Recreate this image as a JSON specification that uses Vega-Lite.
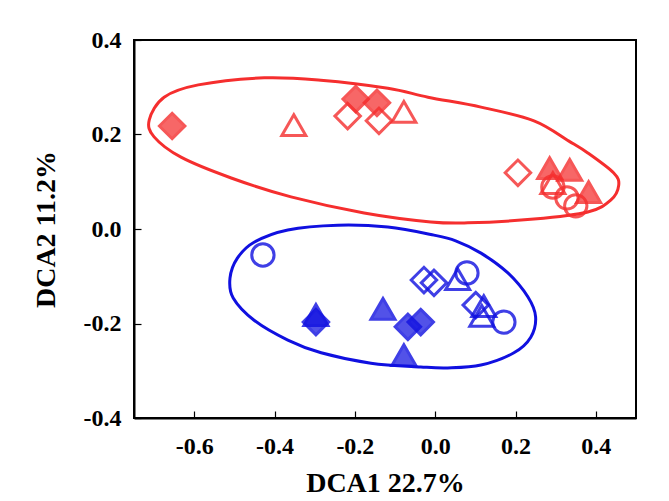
{
  "$schema": "https://vega.github.io/schema/vega-lite/v6.json",
  "width": 502,
  "height": 378,
  "autosize": "none",
  "padding": {"left": 134, "top": 40, "right": 33, "bottom": 83},
  "background": "white",
  "config": {
    "view": {"stroke": "black", "strokeWidth": 2},
    "axis": {
      "grid": false,
      "domainColor": "black",
      "domainWidth": 2,
      "tickColor": "black",
      "tickWidth": 1.2,
      "labelFont": "Liberation Serif",
      "labelFontWeight": "bold",
      "labelFontSize": 24,
      "labelColor": "black",
      "titleFont": "Liberation Serif",
      "titleFontWeight": "bold",
      "titleFontSize": 28,
      "titleColor": "black"
    }
  },
  "datasets": {
    "ellipses": [
      {"group": "A", "i": 0, "x": -0.712, "y": 0.231},
      {"group": "A", "i": 1, "x": -0.675, "y": 0.279},
      {"group": "A", "i": 2, "x": -0.590, "y": 0.305},
      {"group": "A", "i": 3, "x": -0.426, "y": 0.320},
      {"group": "A", "i": 4, "x": -0.285, "y": 0.315},
      {"group": "A", "i": 5, "x": -0.118, "y": 0.298},
      {"group": "A", "i": 6, "x": -0.018, "y": 0.279},
      {"group": "A", "i": 7, "x": 0.114, "y": 0.258},
      {"group": "A", "i": 8, "x": 0.246, "y": 0.229},
      {"group": "A", "i": 9, "x": 0.333, "y": 0.186},
      {"group": "A", "i": 10, "x": 0.380, "y": 0.161},
      {"group": "A", "i": 11, "x": 0.444, "y": 0.119},
      {"group": "A", "i": 12, "x": 0.457, "y": 0.093},
      {"group": "A", "i": 13, "x": 0.437, "y": 0.061},
      {"group": "A", "i": 14, "x": 0.380, "y": 0.036},
      {"group": "A", "i": 15, "x": 0.246, "y": 0.021},
      {"group": "A", "i": 16, "x": 0.081, "y": 0.013},
      {"group": "A", "i": 17, "x": -0.011, "y": 0.015},
      {"group": "A", "i": 18, "x": -0.177, "y": 0.034},
      {"group": "A", "i": 19, "x": -0.359, "y": 0.068},
      {"group": "A", "i": 20, "x": -0.508, "y": 0.108},
      {"group": "A", "i": 21, "x": -0.633, "y": 0.152},
      {"group": "A", "i": 22, "x": -0.700, "y": 0.195},
      {"group": "B", "i": 0, "x": -0.511, "y": -0.104},
      {"group": "B", "i": 1, "x": -0.493, "y": -0.062},
      {"group": "B", "i": 2, "x": -0.451, "y": -0.028},
      {"group": "B", "i": 3, "x": -0.367, "y": -0.002},
      {"group": "B", "i": 4, "x": -0.242, "y": 0.008},
      {"group": "B", "i": 5, "x": -0.118, "y": 0.004},
      {"group": "B", "i": 6, "x": -0.003, "y": -0.013},
      {"group": "B", "i": 7, "x": 0.051, "y": -0.025},
      {"group": "B", "i": 8, "x": 0.114, "y": -0.051},
      {"group": "B", "i": 9, "x": 0.181, "y": -0.093},
      {"group": "B", "i": 10, "x": 0.231, "y": -0.144},
      {"group": "B", "i": 11, "x": 0.250, "y": -0.186},
      {"group": "B", "i": 12, "x": 0.238, "y": -0.229},
      {"group": "B", "i": 13, "x": 0.196, "y": -0.262},
      {"group": "B", "i": 14, "x": 0.114, "y": -0.288},
      {"group": "B", "i": 15, "x": 0.031, "y": -0.294},
      {"group": "B", "i": 16, "x": -0.036, "y": -0.292},
      {"group": "B", "i": 17, "x": -0.160, "y": -0.284},
      {"group": "B", "i": 18, "x": -0.284, "y": -0.262},
      {"group": "B", "i": 19, "x": -0.367, "y": -0.235},
      {"group": "B", "i": 20, "x": -0.451, "y": -0.193},
      {"group": "B", "i": 21, "x": -0.503, "y": -0.146}
    ],
    "points": [
      {"group": "A", "shape": "diamond", "filled": "yes", "x": -0.655, "y": 0.218},
      {"group": "A", "shape": "triangle", "filled": "no", "x": -0.352, "y": 0.220},
      {"group": "A", "shape": "diamond", "filled": "no", "x": -0.218, "y": 0.239},
      {"group": "A", "shape": "diamond", "filled": "no", "x": -0.140, "y": 0.229},
      {"group": "A", "shape": "diamond", "filled": "yes", "x": -0.198, "y": 0.275},
      {"group": "A", "shape": "diamond", "filled": "yes", "x": -0.145, "y": 0.267},
      {"group": "A", "shape": "triangle", "filled": "no", "x": -0.078, "y": 0.248},
      {"group": "A", "shape": "diamond", "filled": "no", "x": 0.206, "y": 0.119},
      {"group": "A", "shape": "triangle", "filled": "yes", "x": 0.285, "y": 0.129},
      {"group": "A", "shape": "triangle", "filled": "yes", "x": 0.335, "y": 0.125},
      {"group": "A", "shape": "triangle", "filled": "no", "x": 0.293, "y": 0.097},
      {"group": "A", "shape": "circle", "filled": "no", "x": 0.293, "y": 0.089},
      {"group": "A", "shape": "circle", "filled": "no", "x": 0.328, "y": 0.066},
      {"group": "A", "shape": "circle", "filled": "no", "x": 0.350, "y": 0.049},
      {"group": "A", "shape": "triangle", "filled": "yes", "x": 0.382, "y": 0.078},
      {"group": "B", "shape": "circle", "filled": "no", "x": -0.429, "y": -0.055},
      {"group": "B", "shape": "diamond", "filled": "no", "x": -0.028, "y": -0.108},
      {"group": "B", "shape": "diamond", "filled": "no", "x": -0.003, "y": -0.114},
      {"group": "B", "shape": "triangle", "filled": "no", "x": 0.056, "y": -0.106},
      {"group": "B", "shape": "circle", "filled": "no", "x": 0.079, "y": -0.093},
      {"group": "B", "shape": "triangle", "filled": "yes", "x": -0.297, "y": -0.182},
      {"group": "B", "shape": "diamond", "filled": "yes", "x": -0.297, "y": -0.197},
      {"group": "B", "shape": "triangle", "filled": "yes", "x": -0.130, "y": -0.169},
      {"group": "B", "shape": "diamond", "filled": "yes", "x": -0.068, "y": -0.207},
      {"group": "B", "shape": "diamond", "filled": "yes", "x": -0.036, "y": -0.197},
      {"group": "B", "shape": "triangle", "filled": "yes", "x": -0.078, "y": -0.267},
      {"group": "B", "shape": "diamond", "filled": "no", "x": 0.101, "y": -0.161},
      {"group": "B", "shape": "triangle", "filled": "no", "x": 0.121, "y": -0.163},
      {"group": "B", "shape": "triangle", "filled": "no", "x": 0.116, "y": -0.184},
      {"group": "B", "shape": "circle", "filled": "no", "x": 0.171, "y": -0.197}
    ]
  },
  "layer": [
    {
      "data": {"name": "ellipses"},
      "mark": {"type": "line", "interpolate": "cardinal-closed", "strokeWidth": 3, "clip": false},
      "encoding": {
        "x": {"field": "x", "type": "quantitative"},
        "y": {"field": "y", "type": "quantitative"},
        "order": {"field": "i", "type": "quantitative"},
        "detail": {"field": "group"},
        "color": {"field": "group", "type": "nominal", "legend": null}
      }
    },
    {
      "data": {"name": "points"},
      "mark": {"type": "point", "strokeWidth": 3, "opacity": 0.8},
      "encoding": {
        "x": {
          "field": "x", "type": "quantitative",
          "scale": {"domain": [-0.75, 0.5], "nice": false, "zero": false},
          "axis": {
            "values": [-0.6, -0.4, -0.2, 0, 0.2, 0.4],
            "labelExpr": "(datum.value < 0 ? '-' : '') + format(abs(datum.value), '.1f')",
            "tickSize": -7,
            "labelPadding": 23,
            "titlePadding": 11,
            "title": "DCA1 22.7%"
          }
        },
        "y": {
          "field": "y", "type": "quantitative",
          "scale": {"domain": [-0.4, 0.4], "nice": false, "zero": false},
          "axis": {
            "values": [-0.4, -0.2, 0, 0.2, 0.4],
            "labelExpr": "(datum.value < 0 ? '-' : '') + format(abs(datum.value), '.1f')",
            "tickSize": -7,
            "labelPadding": 20,
            "titlePadding": 23,
            "title": "DCA2 11.2%"
          }
        },
        "shape": {
          "field": "shape", "type": "nominal",
          "scale": {"domain": ["diamond", "triangle", "circle"], "range": ["diamond", "triangle-up", "circle"]},
          "legend": null
        },
        "size": {
          "field": "shape", "type": "nominal",
          "scale": {"domain": ["diamond", "triangle", "circle"], "range": [650, 500, 380]},
          "legend": null
        },
        "color": {
          "field": "group", "type": "nominal",
          "scale": {"domain": ["A", "B"], "range": ["#f52e2e", "#1010e0"]},
          "legend": null
        },
        "fill": {
          "field": "group", "type": "nominal",
          "scale": {"domain": ["A", "B"], "range": ["#f52e2e", "#1010e0"]},
          "legend": null
        },
        "fillOpacity": {
          "field": "filled", "type": "nominal",
          "scale": {"domain": ["yes", "no"], "range": [0.9, 0]},
          "legend": null
        }
      }
    }
  ]
}
